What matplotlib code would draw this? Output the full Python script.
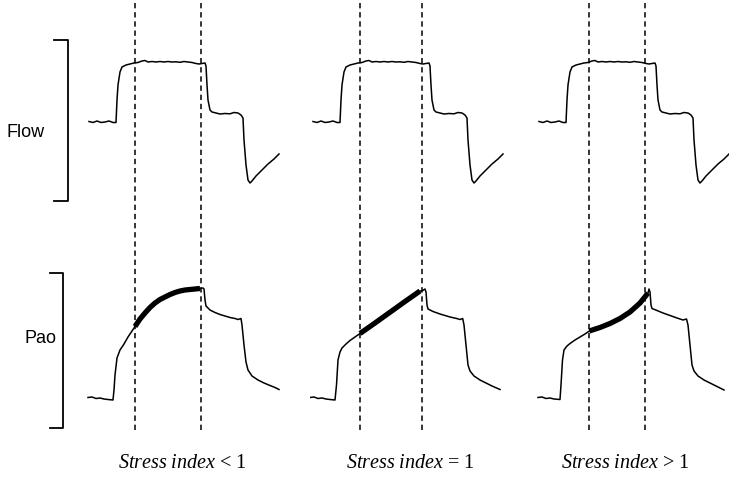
import matplotlib
matplotlib.use('Agg')
import matplotlib.pyplot as plt

plt.rcParams['mathtext.fontset'] = 'custom'
plt.rcParams['mathtext.it'] = 'Liberation Serif:italic'
plt.rcParams['mathtext.rm'] = 'Liberation Serif'

# flow trace (ms, L/min), same breath in every column
flow_t = [-270, -230, -190, -150, -110, -70, -30, 0, 10, 20, 40, 60, 100, 140, 180, 220, 260, 290,
          320, 360, 400, 440, 480, 520, 560, 600, 640, 680, 720, 760, 800, 830, 860, 890, 900, 910,
          920, 940, 960, 1000, 1040, 1090, 1140, 1180, 1220, 1250, 1270, 1280, 1300, 1320, 1340,
          1360, 1400, 1460, 1520, 1580, 1630]
flow_v = [0.5, -0.5, 1, -0.5, 0, 1, -0.5, -0.5, 22, 37, 50, 55, 57, 58, 59, 59.5, 61, 61.5,
          60, 60.5, 60, 60.5, 60, 60.5, 60, 60.2, 59.7, 60.5, 60, 59.5, 58.5, 58, 58.5, 59, 56, 37,
          22, 12, 10, 9, 8, 8.5, 8.2, 9.5, 9, 7, 4, -18, -43, -58, -61,
          -59, -54, -48, -42, -37, -32]

# airway opening pressure (ms, cmH2O)
pao1_t = [-280, -240, -200, -160, -120, -80, -30, -20, -10, 10, 40, 80, 120, 160, 190,
          240, 290, 340, 390, 440, 490, 540, 590, 640, 690, 740, 790, 840,
          870, 880, 890, 900, 940, 990, 1040, 1090, 1140, 1190, 1220, 1250, 1260, 1280, 1300,
          1320, 1360, 1420, 1480, 1540, 1590, 1630]
pao1_v = [5.5, 5.6, 5.3, 5.4, 5.2, 5.1, 5.0, 7.0, 10.0, 13.4, 15.0, 16.2, 17.6, 18.8, 19.7,
          21.2, 22.4, 23.5, 24.4, 25.1, 25.6, 26.1, 26.5, 26.8, 27.0, 27.1, 27.2, 27.3,
          27.4, 27.2, 25.0, 23.8, 23.0, 22.5, 22.1, 21.8, 21.5, 21.3, 21.1, 21.3, 20.0, 16.0, 12.6,
          11.0, 9.8, 9.0, 8.4, 7.9, 7.5, 7.1]

pao2_t = [-300, -260, -220, -180, -140, -100, -50, -35, -20, 0, 20, 60, 100, 150, 200,
          350, 500, 650, 800,
          820, 850, 860, 870, 880, 930, 1000, 1050, 1100, 1167, 1200, 1227, 1240, 1260, 1280,
          1300, 1340, 1400, 1460, 1520, 1600]
pao2_v = [5.5, 5.6, 5.3, 5.4, 5.2, 5.1, 5.0, 8.0, 13.0, 14.6, 15.4, 16.2, 16.9, 17.6, 18.3,
          20.4, 22.55, 24.7, 26.8,
          26.8, 27.2, 26.6, 24.0, 23.2, 22.7, 22.2, 21.9, 21.6, 21.3, 21.1, 21.3, 20.0, 16.0, 12.0,
          10.8, 9.8, 9.0, 8.4, 7.8, 7.1]

pao3_t = [-280, -240, -200, -160, -120, -60, -50, -35, -20, 10, 40, 90, 140, 190, 233,
          340, 440, 540, 640, 740, 820,
          830, 840, 850, 860, 910, 970, 1040, 1110, 1170, 1205, 1220, 1240, 1260, 1280, 1320,
          1380, 1440, 1510, 1580]
pao3_v = [5.5, 5.6, 5.3, 5.4, 5.2, 5.1, 8.0, 13.0, 15.0, 15.8, 16.3, 17.0, 17.6, 18.2, 18.8,
          19.5, 20.3, 21.3, 22.6, 24.4, 26.4,
          27.2, 26.6, 24.0, 23.3, 22.9, 22.4, 21.9, 21.4, 21.0, 21.2, 20.0, 16.0, 12.0, 10.8, 9.8,
          9.0, 8.4, 7.7, 7.0]

pao_t = [pao1_t, pao2_t, pao3_t]
pao_v = [pao1_v, pao2_v, pao3_v]
# dashed lines (ms) and the bold part of the pressure trace
window = [(190, 847), (200, 817), (233, 793)]
bold = [(190, 840), (200, 800), (233, 820)]
labels = ['<', '=', '>']

W, H = 729, 486
fig = plt.figure(figsize=(W / 100, H / 100), dpi=100)


def box(left, top, width, height):
    return [left / W, 1 - (top + height) / H, width / W, height / H]


lefts = [86, 310, 536]
for i in range(3):
    bg = fig.add_axes(box(lefts[i], 0, 194, 430))
    bg.set_xlim(-300, 1640)
    bg.set_ylim(0, 1)
    bg.axis('off')
    for x in window[i]:
        bg.axvline(x, color='black', lw=1.1, ls=(0, (3.5, 2.5)))

    ax = fig.add_axes(box(lefts[i], 57, 194, 130))
    ax.plot(flow_t, flow_v, color='black', lw=1.1)
    ax.set_xlim(-300, 1640)
    ax.set_ylim(-65, 65)
    ax.axis('off')

    ax2 = fig.add_axes(box(lefts[i], 285, 194, 120))
    t, v = pao_t[i], pao_v[i]
    lo, hi = bold[i]
    ax2.plot(t, v, color='black', lw=1.1)
    seg = [k for k in range(len(t)) if lo <= t[k] <= hi]
    ax2.plot([t[k] for k in seg], [v[k] for k in seg], color='black', lw=3.8,
             solid_capstyle='butt')
    ax2.set_xlim(-300, 1640)
    ax2.set_ylim(4, 28)
    ax2.axis('off')

# labels and brackets
ov = fig.add_axes([0, 0, 1, 1])
ov.set_xlim(0, W)
ov.set_ylim(H, 0)
ov.axis('off')
ov.plot([54, 68, 68, 54], [40, 40, 201, 201], color='black', lw=1.3)
ov.plot([50, 63, 63, 50], [273, 273, 428, 428], color='black', lw=1.3)
ov.text(7, 132, 'Flow', fontsize=13, family='Liberation Sans', va='center', ha='left')
ov.text(25, 338, 'Pao', fontsize=13, family='Liberation Sans', va='center', ha='left')

centers = [182, 410, 625]
for c, s in zip(centers, labels):
    ov.text(c, 463, r'$\mathit{Stress\ index}$ ' + s + ' 1', fontsize=14.5,
            family='Liberation Serif', ha='center', va='center')

fig.savefig('out.png', dpi=100)
